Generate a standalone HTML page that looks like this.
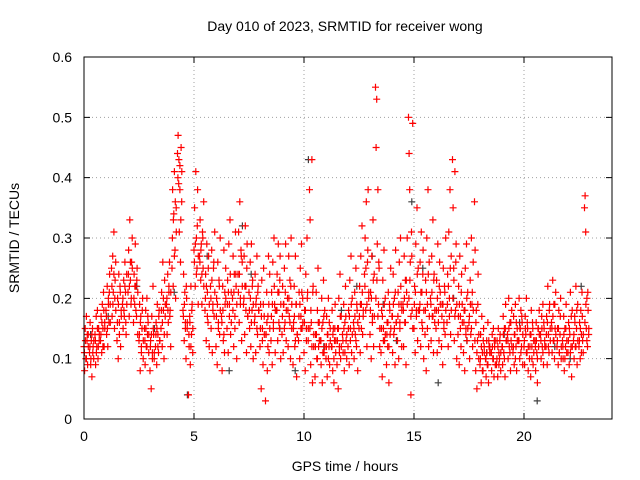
<!DOCTYPE html>
<html><head><meta charset="utf-8"><style>
html,body{margin:0;padding:0;background:#fff;}
svg{display:block;font-family:"Liberation Sans",sans-serif;}
</style></head><body>
<svg id="chart" width="640" height="480" viewBox="0 0 640 480">
<rect width="640" height="480" fill="#fff"/>
<text x="345" y="31" font-size="14" text-anchor="middle" fill="#000">Day 010 of 2023, SRMTID for receiver wong</text>
<g id="grid"></g>
<g id="axes"></g>
<g id="gray"></g>
<g id="red"></g>
<rect x="84" y="57" width="528" height="362" fill="none" stroke="#000" stroke-width="1"/>
<text x="345" y="471" font-size="14" text-anchor="middle">GPS time / hours</text>
<text x="19" y="238" font-size="14" text-anchor="middle" transform="rotate(-90 19 238)">SRMTID / TECUs</text>
</svg>
<script>
const xTicks=[0,5,10,15,20];
const yTicks=[0,0.1,0.2,0.3,0.4,0.5,0.6];
const yTickLabels=["0","0.1","0.2","0.3","0.4","0.5","0.6"];
const binStart=[0,0.25,0.5,0.75,1,1.25,1.5,1.75,2,2.25,2.5,2.75,3,3.25,3.5,3.75,4,4.25,4.5,4.75,5,5.25,5.5,5.75,6,6.25,6.5,6.75,7,7.25,7.5,7.75,8,8.25,8.5,8.75,9,9.25,9.5,9.75,10,10.25,10.5,10.75,11,11.25,11.5,11.75,12,12.25,12.5,12.75,13,13.25,13.5,13.75,14,14.25,14.5,14.75,15,15.25,15.5,15.75,16,16.25,16.5,16.75,17,17.25,17.5,17.75,18,18.25,18.5,18.75,19,19.25,19.5,19.75,20,20.25,20.5,20.75,21,21.25,21.5,21.75,22,22.25,22.5,22.75];
const redValues=[
[12,8,15,10,17,13,9,14],[11,16,9,13,7,15,12,10],[14,9,17,12,18,10,15,13],[13,17,11,19,15,21,12,16],
[18,14,22,12,20,16,24,19],[25,17,27,21,31,15,23,26],[13,20,10,24,16,22,12,18],[19,15,23,17,26,21,14,24],
[21,28,17,33,23,19,26,30],[16,24,19,29,22,17,25,14],[13,19,8,17,11,15,20,10],[15,9,18,12,20,14,16,11],
[8,13,5,17,11,22,14,10],[12,16,9,19,14,11,18,13],[15,21,12,26,18,10,23,17],[19,14,24,16,21,26,18,12],
[25,38,22,34,41,28,20,35],[44,47,39,31,42,26,45,36],[18,24,13,21,16,10,20,15],[4,12,17,9,22,14,19,11],
[28,35,22,41,30,25,38,19],[27,33,23,29,19,31,25,36],[18,24,13,29,21,16,27,12],[22,15,28,11,19,25,17,31],
[12,20,9,26,16,23,14,30],[17,8,22,13,28,11,19,25],[15,23,11,29,19,33,14,21],[20,27,12,24,17,31,22,10],
[24,31,16,36,20,28,13,26],[19,27,14,32,22,11,29,17],[21,15,26,12,29,18,23,10],[16,24,11,20,27,14,22,18],
[12,19,5,23,15,9,25,17],[3,14,21,8,17,27,11,24],[13,21,9,26,16,30,19,11],[18,24,13,29,21,15,27,10],
[14,22,11,19,25,16,29,13],[20,12,27,17,23,10,30,15],[9,16,22,12,27,19,7,14],[13,21,10,25,17,29,15,20],
[11,18,8,24,15,30,21,13],[38,33,9,16,43,6,22,12],[7,14,21,10,18,25,12,16],[13,9,20,6,16,23,11,18],
[10,17,7,14,20,12,9,15],[12,18,8,15,6,13,19,11],[9,15,5,20,12,24,10,17],[14,11,19,8,16,22,13,10],
[12,18,9,23,15,27,11,20],[16,10,21,14,25,12,18,8],[15,22,11,27,19,32,14,17],[24,30,18,36,12,26,38,20],
[14,21,10,27,17,33,12,24],[55,45,53,29,38,19,25,12],[11,18,7,23,15,28,13,20],[9,16,12,21,6,19,14,25],
[17,11,24,14,20,9,28,16],[13,21,10,26,16,30,19,12],[19,12,27,16,23,9,21,30],[50,44,38,26,4,31,18,49],
[15,22,11,29,18,35,13,25],[18,26,12,31,21,15,28,10],[14,23,8,30,19,38,12,26],[20,13,27,17,33,11,24,16],
[15,23,11,29,18,13,26,21],[12,19,9,25,16,22,14,30],[16,24,12,31,20,38,14,27],[43,35,25,13,41,18,29,10],
[14,22,9,27,17,12,24,19],[11,18,8,25,15,29,13,21],[16,10,23,14,30,19,12,26],[36,28,8,18,5,13,24,10],
[9,14,6,17,11,8,15,12],[10,7,13,9,16,6,12,11],[11,8,14,10,15,7,12,13],[9,13,7,15,11,10,14,8],
[12,9,17,11,15,7,19,13],[14,10,20,12,16,8,13,18],[11,17,9,14,19,12,8,15],[13,20,10,15,18,12,16,9],
[12,9,17,14,20,11,15,8],[10,14,7,18,12,16,9,13],[13,8,16,11,6,15,12,18],[14,10,17,12,19,9,15,13],
[12,17,9,22,14,11,19,15],[16,11,23,13,19,10,15,21],[12,15,9,18,11,14,20,10],[13,10,17,8,15,12,19,11],
[11,16,9,14,21,12,7,18],[13,10,17,12,22,15,9,19],[12,16,10,18,14,21,13,11],[35,37,31,15,20,12,18,14]
];
const redValues2=[
[11,13,10,14,12],[12,10,14,11,13],[13,11,15,12,14],[14,16,12,18,15],
[17,15,19,21,16],[22,19,24,20,18],[16,19,14,21,17],[20,18,22,16,19],
[24,22,26,20,25],[20,22,18,23,21],[14,16,12,18,13],[13,15,12,17,14],
[12,14,10,15,11],[14,15,12,17,13],[18,16,20,14,19],[20,18,22,17,21],
[30,33,27,36,31],[40,43,38,33,41],[17,19,15,22,16],[14,16,12,18,15],
[26,29,24,32,27],[26,28,24,30,22],[20,22,17,25,19],[20,23,18,26,21],
[17,19,15,22,18],[16,18,14,21,20],[19,21,17,24,16],[18,21,15,24,19],
[21,24,19,27,22],[20,22,18,25,17],[18,20,16,22,19],[17,19,15,21,18],
[15,17,13,19,14],[14,16,12,19,15],[17,19,15,22,18],[18,21,16,23,19],
[17,19,15,21,18],[18,20,16,22,19],[15,17,13,19,14],[17,19,15,21,16],
[16,18,13,20,15],[15,18,12,21,14],[12,14,10,16,13],[13,15,11,17,12],
[12,14,10,16,13],[12,14,10,15,13],[13,15,11,17,12],[13,15,11,17,14],
[15,17,13,19,14],[15,17,13,19,16],[17,19,15,21,18],[22,25,19,28,21],
[18,20,16,23,17],[20,23,17,26,15],[15,17,13,19,14],[14,16,12,18,15],
[17,19,15,21,16],[17,19,15,22,18],[18,20,16,23,19],[20,23,17,27,15],
[19,21,17,24,18],[19,21,16,24,18],[18,21,15,24,17],[19,21,17,23,18],
[18,20,16,22,19],[17,19,15,21,18],[19,22,17,25,18],[20,23,17,26,19],
[17,19,15,21,16],[16,18,14,20,15],[17,19,15,21,18],[13,16,11,19,14],
[10,12,8,13,11],[10,11,9,13,12],[11,12,10,13,9],[10,12,9,13,11],
[12,14,10,15,13],[13,15,11,16,12],[12,14,10,16,13],[13,15,11,17,14],
[13,15,11,16,12],[12,14,10,15,11],[12,13,10,15,14],[13,15,11,16,12],
[14,16,12,18,13],[15,17,13,19,14],[13,15,11,17,12],[12,14,10,15,13],
[13,15,11,17,12],[14,16,12,18,13],[13,15,11,17,14],[16,19,13,21,15]
];
const grayHours=[0.3,1.1,2.4,3.2,4.1,4.7,5.6,6.6,7.2,7.6,8.9,9.6,10.2,10.9,11.7,12.4,13.1,13.6,14.2,14.9,15.4,16.1,16.8,17.4,18.3,19.1,19.8,20.6,21.4,22.1,22.6];
const grayValues=[0.14,0.17,0.22,0.15,0.21,0.04,0.27,0.08,0.32,0.24,0.15,0.08,0.43,0.12,0.18,0.22,0.27,0.19,0.13,0.36,0.25,0.06,0.2,0.13,0.11,0.14,0.16,0.03,0.12,0.1,0.22];

const NS="http://www.w3.org/2000/svg";
const X0=84,X1=612,Y0=419,Y1=57;
function xs(h){return X0+(h/24)*(X1-X0);}
function ys(v){return Y0-(v/0.6)*(Y0-Y1);}
function mk(tag,attrs,parent){const e=document.createElementNS(NS,tag);for(const k in attrs)e.setAttribute(k,attrs[k]);parent.appendChild(e);return e;}
const grid=document.getElementById('grid'),axes=document.getElementById('axes');
xTicks.forEach(t=>{
  const x=xs(t);
  if(t>0){const g=mk('line',{x1:x,y1:Y0,x2:x,y2:Y1,stroke:'#a0a0a0','stroke-dasharray':'1,3','stroke-width':1},grid);
  
  }
  const a=mk('path',{d:`M${x},${Y0}v-6M${x},${Y1}v6`,stroke:'#000','stroke-width':1},axes);
  
  
  const l=mk('text',{x:x,y:Y0+22,'font-size':14,'text-anchor':'middle'},axes);l.textContent=String(t);
  
  
});
yTicks.forEach((t,i)=>{
  const y=ys(t);
  if(t>0&&t<0.6){const g=mk('line',{x1:X0,y1:y,x2:X1,y2:y,stroke:'#a0a0a0','stroke-dasharray':'1,3','stroke-width':1},grid);
  
  }
  const a=mk('path',{d:`M${X0},${y}h6M${X1},${y}h-6`,stroke:'#000','stroke-width':1},axes);
  
  
  const l=mk('text',{x:X0-12,y:y+5,'font-size':14,'text-anchor':'end'},axes);l.textContent=yTickLabels[i];
  
  
});
function plus(h,v,color,parent){
  const x=xs(h),y=ys(v);
  const p=mk('path',{d:`M${(x-3.5).toFixed(1)},${y.toFixed(1)}h7M${x.toFixed(1)},${(y-3.5).toFixed(1)}v7`,stroke:color,'stroke-width':1.2,fill:'none'},parent);
  
  
}
const gray=document.getElementById('gray'),red=document.getElementById('red');
grayHours.forEach((h,i)=>plus(h,grayValues[i],'#404040',gray));
binStart.forEach((b,i)=>{const vs=redValues[i];vs.forEach((v,j)=>plus(b+j*(0.22/vs.length),v/100,'#ff0000',red));});
binStart.forEach((b,i)=>{const vs=redValues2[i];vs.forEach((v,j)=>plus(b+0.02+j*(0.22/vs.length),v/100,'#ff0000',red));});
</script>
</body></html>
